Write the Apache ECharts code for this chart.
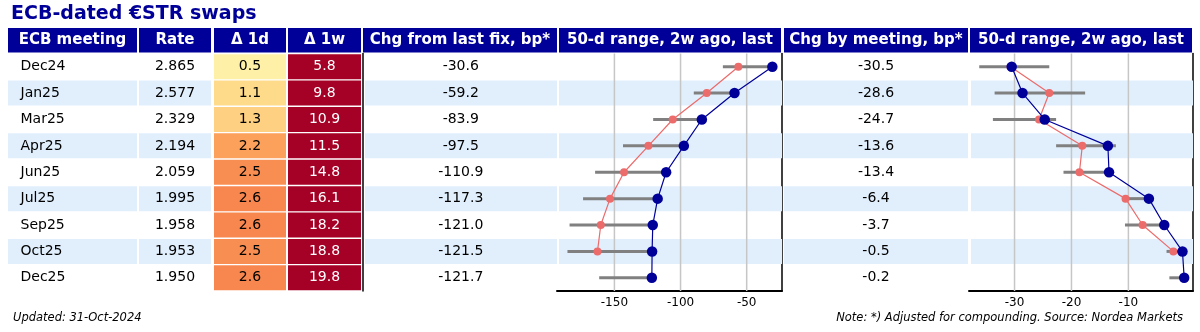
<!DOCTYPE html>
<html>
<head>
<meta charset="utf-8">
<script src="https://cdn.jsdelivr.net/npm/echarts@6/dist/echarts.min.js"></script>
<style>
  html, body { margin: 0; padding: 0; background: #fff; }
  #chart { width: 1200px; height: 332px; }
</style>
</head>
<body>
<div id="chart"></div>
<script>
// ---- data -------------------------------------------------------------
const meetings = ['Dec24', 'Jan25', 'Mar25', 'Apr25', 'Jun25', 'Jul25', 'Sep25', 'Oct25', 'Dec25'];
const rate = [2.865, 2.577, 2.329, 2.194, 2.059, 1.995, 1.958, 1.953, 1.950];
const delta1d = [0.5, 1.1, 1.3, 2.2, 2.5, 2.6, 2.6, 2.5, 2.6];
const delta1w = [5.8, 9.8, 10.9, 11.5, 14.8, 16.1, 18.2, 18.8, 19.8];

// change from last fixing, bp: last, two weeks ago, 50-day range
const chgFromFix = [-30.6, -59.2, -83.9, -97.5, -110.9, -117.3, -121.0, -121.5, -121.7];
const fixTwoWeeksAgo = [-56.3, -80.2, -105.9, -124.3, -142.7, -153.3, -160.3, -162.8, null];
const fixRangeLow = [-68.0, -90.0, -120.7, -143.5, -164.6, -173.7, -183.9, -185.5, -161.5];
const fixRangeHigh = [-30.6, -59.2, -83.9, -97.5, -110.9, -117.3, -121.0, -121.5, -121.7];

// change by meeting, bp: last, two weeks ago, 50-day range
const chgByMeeting = [-30.5, -28.6, -24.7, -13.6, -13.4, -6.4, -3.7, -0.5, -0.2];
const meetTwoWeeksAgo = [-30.7, -23.9, -25.7, -18.1, -18.6, -10.5, -7.5, -2.1, null];
const meetRangeLow = [-36.2, -33.5, -33.8, -22.7, -21.4, -11.1, -10.6, -3.3, -2.8];
const meetRangeHigh = [-23.9, -17.6, -22.7, -12.2, -13.4, -6.4, -3.7, -0.5, -0.2];

const headers = ['ECB meeting', 'Rate', 'Δ 1d', 'Δ 1w', 'Chg from last fix, bp*',
                 '50-d range, 2w ago, last', 'Chg by meeting, bp*', '50-d range, 2w ago, last'];
const fixTicks = [-150, -100, -50];
const meetTicks = [-30, -20, -10];

const titleText = 'ECB-dated €STR swaps';
const updatedText = 'Updated: 31-Oct-2024';
const noteText = 'Note: *) Adjusted for compounding. Source: Nordea Markets';

// ---- styling / layout ---------------------------------------------------
const FONT = "'DejaVu Sans', sans-serif";
const NAVY = '#000099';
const STRIPE = '#e1effd';
const RED = '#ec6b6b';
const GREY = '#808080';
const TOP = 53.5, HEIGHT = 237.5;
// column frames [left, right] in px, one grid per column
const frames = [[8, 137], [139, 211], [214, 286], [288, 361], [362.5, 557], [557, 782], [784, 968], [969, 1193]];
const headerFrames = [[8, 137], [139, 211], [214, 286], [288, 361], [363, 557], [559, 781], [784, 968], [970, 1192]];

const heatStops = ['#ffffbf', '#fee090', '#fdae61', '#f46d43', '#d73027', '#a50026'];
function heatColor(v) {
  const t = Math.max(0, Math.min(1, v / 5));
  return echarts.color.lerp(t, heatStops);
}

const grids = frames.map(([l, r]) => ({ left: l, width: r - l, top: TOP, height: HEIGHT, outerBoundsMode: 'none' }));

const xAxes = [], yAxes = [];
frames.forEach((f, k) => {
  const isPlot = (k === 5 || k === 7);
  if (isPlot) {
    const ticks = k === 5 ? fixTicks : meetTicks;
    xAxes.push({
      type: 'value', gridIndex: k,
      min: k === 5 ? -193.4 : -38, max: k === 5 ? -23.3 : 1.35,
      axisLine: { show: true, onZero: false, lineStyle: { color: '#000', width: 2 } },
      axisTick: { show: false },
      splitLine: { show: false },
      axisLabel: { customValues: ticks, color: '#000', fontSize: 12, fontFamily: FONT, margin: 6 }
    });
    yAxes.push({
      type: 'category', gridIndex: k, data: meetings, inverse: true, position: 'right',
      axisLine: { show: true, onZero: false, lineStyle: { color: '#000', width: 1.5 } },
      axisTick: { show: false }, axisLabel: { show: false }, splitLine: { show: false }
    });
  } else {
    xAxes.push({ type: 'category', gridIndex: k, data: [headers[k]], show: false });
    yAxes.push({
      type: 'category', gridIndex: k, data: meetings, inverse: true, position: 'left',
      show: k === 4,
      axisLine: { show: k === 4, onZero: false, lineStyle: { color: '#000', width: 1.5 } },
      axisTick: { show: false }, axisLabel: { show: false }, splitLine: { show: false }
    });
  }
});

// one table column drawn as a custom series: background cell + text
function cellSeries(k, values, cfg) {
  return {
    type: 'custom', xAxisIndex: k, yAxisIndex: k, silent: true, z: 2,
    data: values.map((v, i) => [headers[k], meetings[i], v]),
    encode: { x: 0, y: 1 },
    renderItem(params, api) {
      const i = params.dataIndex;
      const v = values[i];
      const [cx, cy] = api.coord([api.value(0), api.value(1)]);
      const [bw, bh] = api.size([1, 1]);
      const inset = cfg.inset || 0;
      const children = [];
      const fill = cfg.fill(v, i);
      if (fill) {
        children.push({
          type: 'rect',
          shape: { x: cx - bw / 2 + inset, y: cy - bh / 2 + 0.7, width: bw - inset, height: bh - 1.4 },
          style: { fill }
        });
      }
      children.push({
        type: 'text',
        x: cfg.align === 'left' ? cx - bw / 2 + 12.5 : cx + (cfg.dx || 0),
        y: cy,
        style: {
          text: cfg.fmt(v), fill: cfg.color ? cfg.color(v) : '#000',
          fontSize: 14, fontFamily: FONT,
          align: cfg.align || 'center', verticalAlign: 'middle'
        }
      });
      return { type: 'group', children };
    }
  };
}

const stripe = (v, i) => (i % 2 === 1 ? STRIPE : null);

// dot-range panel: stripes, vertical grid lines, 50-d range, 2w ago, last
function plotSeries(k, last, ago, lo, hi, ticks) {
  return [
    {
      type: 'custom', xAxisIndex: k, yAxisIndex: k, silent: true, z: 1,
      data: meetings.map((m, i) => [lo[i], m]),
      encode: { x: 0, y: 1 },
      renderItem(params, api) {
        if (params.dataIndex % 2 === 0) return null;
        const cs = params.coordSys;
        const cy = api.coord([api.value(0), api.value(1)])[1];
        const bh = api.size([1, 1])[1];
        return {
          type: 'rect',
          shape: { x: cs.x + 2, y: cy - bh / 2 + 0.7, width: cs.width - 2, height: bh - 1.4 },
          style: { fill: STRIPE }
        };
      }
    },
    {
      type: 'custom', xAxisIndex: k, yAxisIndex: k, silent: true, z: 2,
      data: ticks.map(t => [t, meetings[0]]),
      encode: { x: 0, y: 1 },
      renderItem(params, api) {
        const cs = params.coordSys;
        const x = api.coord([api.value(0), api.value(1)])[0];
        return {
          type: 'line',
          shape: { x1: x, y1: cs.y, x2: x, y2: cs.y + cs.height },
          style: { stroke: '#c6c6c6', lineWidth: 1.5 }
        };
      }
    },
    {
      type: 'custom', xAxisIndex: k, yAxisIndex: k, silent: true, z: 3,
      data: meetings.map((m, i) => [lo[i], m, hi[i]]),
      encode: { x: [0, 2], y: 1 },
      renderItem(params, api) {
        const p1 = api.coord([api.value(0), api.value(1)]);
        const p2 = api.coord([api.value(2), api.value(1)]);
        return {
          type: 'line',
          shape: { x1: p1[0], y1: p1[1], x2: p2[0], y2: p2[1] },
          style: { stroke: GREY, lineWidth: 3 }
        };
      }
    },
    {
      type: 'line', xAxisIndex: k, yAxisIndex: k, silent: true, z: 4,
      data: meetings.map((m, i) => [ago[i], m]).filter(d => d[0] != null),
      symbol: 'circle', symbolSize: 8, showSymbol: true,
      itemStyle: { color: RED }, lineStyle: { color: RED, width: 1.2 }
    },
    {
      type: 'line', xAxisIndex: k, yAxisIndex: k, silent: true, z: 5,
      data: meetings.map((m, i) => [last[i], m]),
      symbol: 'circle', symbolSize: 10.5, showSymbol: true,
      itemStyle: { color: NAVY }, lineStyle: { color: NAVY, width: 1.2 }
    }
  ];
}

const series = [
  cellSeries(0, meetings, { fmt: v => v, fill: stripe, align: 'left' }),
  cellSeries(1, rate, { fmt: v => v.toFixed(3), fill: stripe }),
  cellSeries(2, delta1d, { fmt: v => v.toFixed(1), fill: v => heatColor(v) }),
  cellSeries(3, delta1w, { fmt: v => v.toFixed(1), fill: v => heatColor(v), color: () => '#fff' }),
  cellSeries(4, chgFromFix, { fmt: v => v.toFixed(1), fill: stripe, inset: 2.5, dx: 1 }),
  ...plotSeries(5, chgFromFix, fixTwoWeeksAgo, fixRangeLow, fixRangeHigh, fixTicks),
  cellSeries(6, chgByMeeting, { fmt: v => v.toFixed(1), fill: stripe }),
  ...plotSeries(7, chgByMeeting, meetTwoWeeksAgo, meetRangeLow, meetRangeHigh, meetTicks)
];

// header band, title and footnotes
const graphic = [
  {
    type: 'text', x: 11, y: 14,
    style: { text: titleText, fill: NAVY, fontSize: 19, fontWeight: 'bold', fontFamily: FONT, verticalAlign: 'middle' }
  },
  {
    type: 'text', x: 13, y: 318,
    style: { text: updatedText, fill: '#000', fontSize: 11.5, fontStyle: 'italic', fontFamily: FONT, verticalAlign: 'middle' }
  },
  {
    type: 'text', x: 1183, y: 318,
    style: { text: noteText, fill: '#000', fontSize: 11.5, fontStyle: 'italic', fontFamily: FONT, align: 'right', verticalAlign: 'middle' }
  }
];
headerFrames.forEach(([l, r], k) => {
  graphic.push({
    type: 'rect', shape: { x: l, y: 28, width: r - l, height: 24.5 }, style: { fill: NAVY }
  });
  graphic.push({
    type: 'text', x: (l + r) / 2, y: 40.3,
    style: { text: headers[k], fill: '#fff', fontSize: 15, fontWeight: 'bold', fontFamily: FONT,
             align: 'center', verticalAlign: 'middle' }
  });
});

const chart = echarts.init(document.getElementById('chart'), null, { renderer: 'canvas' });
chart.setOption({
  animation: false,
  backgroundColor: '#fff',
  grid: grids,
  xAxis: xAxes,
  yAxis: yAxes,
  series,
  graphic
});
</script>
</body>
</html>
